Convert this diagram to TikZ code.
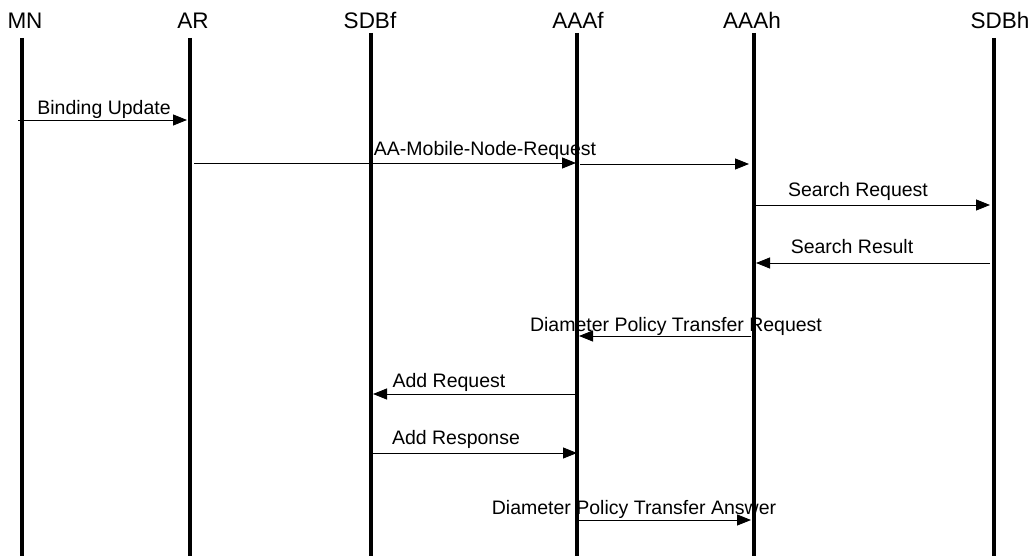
\documentclass[tikz,border=0pt]{standalone}
\usepackage{fontspec}
\setmainfont{Liberation Sans}
\usetikzlibrary{arrows.meta}
\begin{document}
\begin{tikzpicture}[x=1pt,y=-1pt,
  lifeline/.style={line width=4pt},
  head/.style={font=\fontsize{22.5}{23}\selectfont, inner sep=0pt, anchor=base},
  msg/.style={line width=0.8pt, -{Triangle[length=14pt,width=11pt]}},
  lbl/.style={font=\fontsize{19.5}{20}\selectfont, inner sep=0pt, anchor=base}]
  \useasboundingbox[fill=white] (0,0) rectangle (1031,556);

  % entity headings
  \node[head] (MN)   at (25,29)  {MN};
  \node[head] (AR)   at (193,29) {AR};
  \node[head] (SDBf) at (370,29) {SDBf};
  \node[head] (AAAf) at (578,29) {AAAf};
  \node[head] (AAAh) at (752,29) {AAAh};
  \node[head] (SDBh) at (1000,29) {SDBh};

  % lifelines
  \coordinate (mn-t) at (22,38);    \coordinate (mn-b) at (22,556);
  \coordinate (ar-t) at (190,38);   \coordinate (ar-b) at (190,556);
  \coordinate (sf-t) at (371,33);   \coordinate (sf-b) at (371,556);
  \coordinate (af-t) at (577,33);   \coordinate (af-b) at (577,556);
  \coordinate (ah-t) at (754,33);   \coordinate (ah-b) at (754,556);
  \coordinate (sh-t) at (994,38);   \coordinate (sh-b) at (994,556);
  \foreach \t/\b in {mn-t/mn-b, ar-t/ar-b, sf-t/sf-b, af-t/af-b, ah-t/ah-b, sh-t/sh-b}
    \draw[lifeline] (\t) -- (\b);

  % Binding Update
  \coordinate (m1a) at (18,120);  \coordinate (m1b) at (187,120);
  \draw[msg] (m1a) -- (m1b);
  \node[lbl] (l1) at (104,115) {Binding Update};

  % AA-Mobile-Node-Request (AR -> AAAf -> AAAh)
  \coordinate (m2a) at (194,163); \coordinate (m2b) at (576,163);
  \coordinate (m2c) at (580,164); \coordinate (m2d) at (749,164);
  \draw[msg] (m2a) -- (m2b);
  \draw[msg] (m2c) -- (m2d);
  \node[lbl] (l2) at (485,156) {AA-Mobile-Node-Request};

  % Search Request
  \coordinate (m3a) at (756,205); \coordinate (m3b) at (990,205);
  \draw[msg] (m3a) -- (m3b);
  \node[lbl] (l3) at (858,197) {Search Request};

  % Search Result
  \coordinate (m4a) at (990,263); \coordinate (m4b) at (756,263);
  \draw[msg] (m4a) -- (m4b);
  \node[lbl] (l4) at (852,254) {Search Result};

  % Diameter Policy Transfer Request
  \coordinate (m5a) at (751,336); \coordinate (m5b) at (579,336);
  \draw[msg] (m5a) -- (m5b);
  \node[lbl] (l5) at (676,331) {Diameter Policy Transfer Request};

  % Add Request
  \coordinate (m6a) at (577,394); \coordinate (m6b) at (373,394);
  \draw[msg] (m6a) -- (m6b);
  \node[lbl] (l6) at (449,387) {Add Request};

  % Add Response
  \coordinate (m7a) at (373,453); \coordinate (m7b) at (577,453);
  \draw[msg] (m7a) -- (m7b);
  \node[lbl] (l7) at (456,444) {Add Response};

  % Diameter Policy Transfer Answer
  \coordinate (m8a) at (579,520); \coordinate (m8b) at (751,520);
  \draw[msg] (m8a) -- (m8b);
  \node[lbl] (l8) at (634,514) {Diameter Policy Transfer Answer};
\end{tikzpicture}
\end{document}
